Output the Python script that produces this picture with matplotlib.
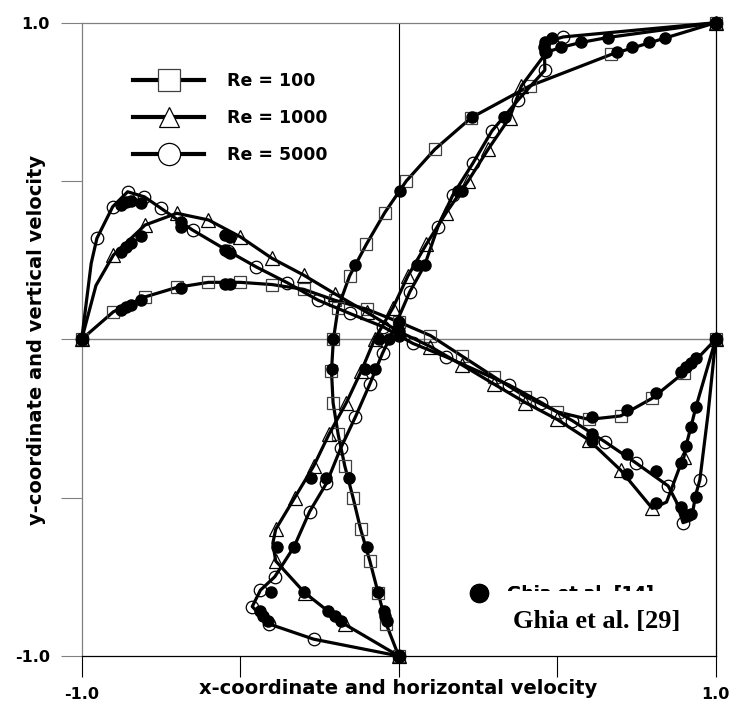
import numpy as np
import matplotlib.pyplot as plt
from matplotlib.lines import Line2D
from matplotlib.patches import Rectangle

# Ghia et al. benchmark data, cavity mapped to [-1, 1]
# u along the vertical centre line (x = u, y = position)
ghia_Y = [1.0, 0.9532, 0.9376, 0.9218, 0.9062, 0.7032, 0.4688, 0.2344, 0.0,
          -0.0938, -0.4374, -0.6562, -0.7968, -0.8594, -0.875, -0.8906, -1.0]
ghia_u100 = [1.0, 0.84123, 0.78871, 0.73722, 0.68717, 0.23151, 0.00332, -0.13641, -0.20581,
             -0.21090, -0.15662, -0.10150, -0.06434, -0.04775, -0.04192, -0.03717, 0.0]
ghia_u1000 = [1.0, 0.65928, 0.57492, 0.51117, 0.46604, 0.33304, 0.18719, 0.05702, -0.06080,
              -0.10648, -0.27805, -0.38289, -0.29730, -0.22220, -0.20196, -0.18109, 0.0]
ghia_u5000 = [1.0, 0.48223, 0.46120, 0.45992, 0.46036, 0.33556, 0.20087, 0.08183, -0.03039,
              -0.07404, -0.22855, -0.33050, -0.40435, -0.43643, -0.42901, -0.41165, 0.0]
# v along the horizontal centre line (x = position, y = v)
ghia_X = [1.0, 0.9376, 0.9218, 0.9062, 0.8906, 0.8126, 0.7188, 0.6094, 0.0,
          -0.5312, -0.5468, -0.6874, -0.8124, -0.8438, -0.8594, -0.875, -1.0]
ghia_v100 = [0.0, -0.05906, -0.07391, -0.08864, -0.10313, -0.16914, -0.22445, -0.24533, 0.05454,
             0.17527, 0.17507, 0.16077, 0.12317, 0.10890, 0.10091, 0.09233, 0.0]
ghia_v1000 = [0.0, -0.21388, -0.27669, -0.33714, -0.39188, -0.51550, -0.42665, -0.31966, 0.02526,
              0.32235, 0.33075, 0.37095, 0.32627, 0.30353, 0.29012, 0.27485, 0.0]
ghia_v5000 = [0.0, -0.49774, -0.55069, -0.55408, -0.52876, -0.41442, -0.36214, -0.30018, 0.00945,
              0.27280, 0.28066, 0.35368, 0.42951, 0.43648, 0.43329, 0.42447, 0.0]

# present results (markers)
v100_X = [-1.0, -0.9, -0.8, -0.7, -0.6, -0.5, -0.4, -0.3, -0.2, -0.1, 0.0,
          0.1, 0.2, 0.3, 0.4, 0.5, 0.6, 0.7, 0.8, 0.9, 1.0]
v100 = [0.0, 0.087, 0.134, 0.164, 0.180, 0.180, 0.173, 0.158, 0.123, 0.095, 0.055,
        0.012, -0.053, -0.118, -0.181, -0.229, -0.253, -0.242, -0.186, -0.105, 0.0]
v1000_X = [-1.0, -0.9, -0.8, -0.7, -0.6, -0.5, -0.4, -0.3, -0.2, -0.1, 0.0,
           0.1, 0.2, 0.3, 0.4, 0.5, 0.6, 0.7, 0.8, 0.9, 1.0]
v1000 = [0.0, 0.266, 0.361, 0.398, 0.377, 0.324, 0.256, 0.203, 0.143, 0.085, 0.025,
         -0.023, -0.081, -0.141, -0.200, -0.253, -0.318, -0.413, -0.534, -0.371, 0.0]
v5000_X = [-1.0, -0.952, -0.902, -0.855, -0.802, -0.75, -0.65, -0.54, -0.45, -0.352, -0.255,
           -0.155, -0.05, 0.045, 0.148, 0.348, 0.45, 0.548, 0.65, 0.748, 0.85, 0.897, 0.95, 1.0]
v5000 = [0.0, 0.319, 0.419, 0.466, 0.450, 0.414, 0.345, 0.280, 0.229, 0.179, 0.124,
         0.082, 0.040, -0.013, -0.055, -0.144, -0.200, -0.257, -0.323, -0.390, -0.463, -0.579, -0.444, 0.0]

u100_Y = [1.0, 0.9, 0.8, 0.7, 0.6, 0.5, 0.4, 0.3, 0.2, 0.1, 0.0,
          -0.1, -0.2, -0.3, -0.4, -0.5, -0.6, -0.7, -0.8, -0.9, -1.0]
u100 = [1.0, 0.671, 0.413, 0.229, 0.114, 0.024, -0.044, -0.102, -0.155, -0.191, -0.206,
        -0.212, -0.207, -0.191, -0.170, -0.144, -0.120, -0.091, -0.065, -0.039, 0.0]
u1000_Y = [1.0, 0.8, 0.7, 0.6, 0.5, 0.4, 0.3, 0.2, 0.1, 0.0,
           -0.1, -0.2, -0.3, -0.4, -0.5, -0.6, -0.7, -0.8, -0.9, -1.0]
u1000 = [1.0, 0.387, 0.350, 0.282, 0.219, 0.150, 0.087, 0.029, -0.018, -0.076,
         -0.118, -0.165, -0.220, -0.268, -0.328, -0.388, -0.388, -0.297, -0.170, 0.0]
u5000_Y = [1.0, 0.955, 0.85, 0.755, 0.658, 0.556, 0.456, 0.356, 0.15, -0.044, -0.141,
           -0.246, -0.344, -0.455, -0.544, -0.75, -0.792, -0.844, -0.899, -0.947, -1.0]
u5000 = [1.0, 0.519, 0.461, 0.376, 0.294, 0.234, 0.171, 0.124, 0.035, -0.051, -0.091,
         -0.137, -0.183, -0.228, -0.281, -0.391, -0.436, -0.462, -0.409, -0.268, 0.0]

# extra vertices of the curves between markers
v1000_ex_X = [-0.955, 0.845, 0.8906, 0.9062, 0.9218, 0.9376]
v1000_ex = [0.17, -0.514, -0.392, -0.337, -0.277, -0.214]
v5000_ex_X = [-0.97, 0.876, 0.923, 0.937, 0.976]
v5000_ex = [0.24, -0.513, -0.570, -0.491, -0.234]
u1000_ex_Y = [0.9062, 0.9218, 0.9376, 0.9532, -0.644]
u1000_ex = [0.466, 0.511, 0.575, 0.659, -0.397]
u5000_ex_Y = [0.906, 0.922, 0.938, 0.2344, 0.0, -0.656]
u5000_ex = [0.460, 0.460, 0.461, 0.082, -0.030, -0.3305]

labels = ['Re = 100', 'Re = 1000', 'Re = 5000']
markers = ['s', '^', 'o']
medges = ['#404040', 'black', 'black']
msizes = [9, 10, 9]

bold = dict(family='DejaVu Sans', weight='bold')

fig = plt.figure(figsize=(7.3, 7.09), dpi=100)
ax = fig.add_axes([0.1119, 0.0748, 0.8685, 0.8932])
ax.set_xlim(-1, 1)
ax.set_ylim(-1, 1)

ax.axhline(0, color='#808080', lw=1.0, zorder=1)
ax.axvline(0, color='black', lw=0.8, zorder=1)


def curve_line(px, py, ex_p, ex_q, along_x):
    # merge marker points and extra vertices, ordered along the curve
    a = list(px) + list(ex_p)
    b = list(py) + list(ex_q)
    key = a if along_x else b
    order = np.argsort(key)
    return np.array(a)[order], np.array(b)[order]


lw = 2.3
v_sets = [(v100_X, v100, [], []), (v1000_X, v1000, v1000_ex_X, v1000_ex),
          (v5000_X, v5000, v5000_ex_X, v5000_ex)]
u_sets = [(u100, u100_Y, [], []), (u1000, u1000_Y, u1000_ex, u1000_ex_Y),
          (u5000, u5000_Y, u5000_ex, u5000_ex_Y)]

for i in range(3):
    xs, ys, ex_x, ex_y = v_sets[i]
    lx, ly = curve_line(xs, ys, ex_x, ex_y, True)
    ax.plot(lx, ly, color='black', lw=lw, zorder=3, clip_on=False)
    ax.plot(xs, ys, ls='none', marker=markers[i], ms=msizes[i], mfc='none',
            mec=medges[i], mew=0.9, zorder=3, clip_on=False)

    xs, ys, ex_x, ex_y = u_sets[i]
    lx, ly = curve_line(xs, ys, ex_x, ex_y, False)
    ax.plot(lx, ly, color='black', lw=lw, zorder=3, clip_on=False)
    ax.plot(xs, ys, ls='none', marker=markers[i], ms=msizes[i], mfc='none',
            mec=medges[i], mew=0.9, zorder=3, clip_on=False)

for gu in [ghia_u100, ghia_u1000, ghia_u5000]:
    ax.plot(gu, ghia_Y, ls='none', marker='o', ms=8, color='black', zorder=4, clip_on=False)
for gv in [ghia_v100, ghia_v1000, ghia_v5000]:
    ax.plot(ghia_X, gv, ls='none', marker='o', ms=8, color='black', zorder=4, clip_on=False)

# axes styling
ax.set_xticks([-1, -0.5, 0, 0.5, 1])
ax.set_xticklabels(['-1.0', '', '', '', '1.0'])
ax.set_yticks([-1, -0.5, 0, 0.5, 1])
ax.set_yticklabels(['-1.0', '', '', '', '1.0'])
ax.tick_params(axis='x', direction='out', length=15, width=0.8, color='black', pad=7)
ax.tick_params(axis='y', direction='out', length=15, width=0.8, color='#808080', pad=8)
for lab in ax.get_xticklabels() + ax.get_yticklabels():
    lab.set_fontfamily('DejaVu Sans')
    lab.set_fontweight('bold')
    lab.set_fontsize(11.5)
ax.spines['left'].set_color('#808080')
ax.spines['top'].set_color('#808080')
ax.spines['bottom'].set_color('black')
ax.spines['right'].set_color('black')
for s in ax.spines.values():
    s.set_linewidth(0.9)

ax.set_xlabel('x-coordinate and horizontal velocity', fontsize=14, **bold)
ax.set_ylabel('y-coordinate and vertical velocity', fontsize=14, **bold)
ax.xaxis.set_label_coords(0.499, -0.036)
ax.yaxis.set_label_coords(-0.056, 0.499)

# legends
handles = [Line2D([], [], color='black', lw=3, marker=markers[i], ms=16 if i != 1 else 15,
                  mfc='white', mec=medges[i], mew=0.9) for i in range(3)]
leg = ax.legend(handles, labels, loc='upper left', bbox_to_anchor=(0.081, 0.922),
                frameon=False, borderpad=0, borderaxespad=0, handlelength=4.1,
                handletextpad=1.3, labelspacing=1.1, prop=dict(size=12.5, **bold))
ax.add_artist(leg)

h2 = [Line2D([], [], ls='none', marker='o', ms=13, color='black')]
leg2 = ax.legend(h2, ['Ghia et al. [14]'], loc='upper left', bbox_to_anchor=(0.613, 0.1123),
                 frameon=False, borderpad=0, borderaxespad=0, handlelength=1.0,
                 handletextpad=1.1, prop=dict(size=12.5, **bold))
ax.add_artist(leg2)
ax.add_patch(Rectangle((0.652, 0.025), 0.323, 0.078, transform=ax.transAxes,
                       facecolor='white', edgecolor='none', zorder=6))
ax.text(0.813, 0.0442, 'Ghia et al. [29]', transform=ax.transAxes, ha='center',
        va='baseline', fontsize=19, family='Liberation Serif', weight='bold', zorder=7)

fig.savefig('out.png', dpi=100)
